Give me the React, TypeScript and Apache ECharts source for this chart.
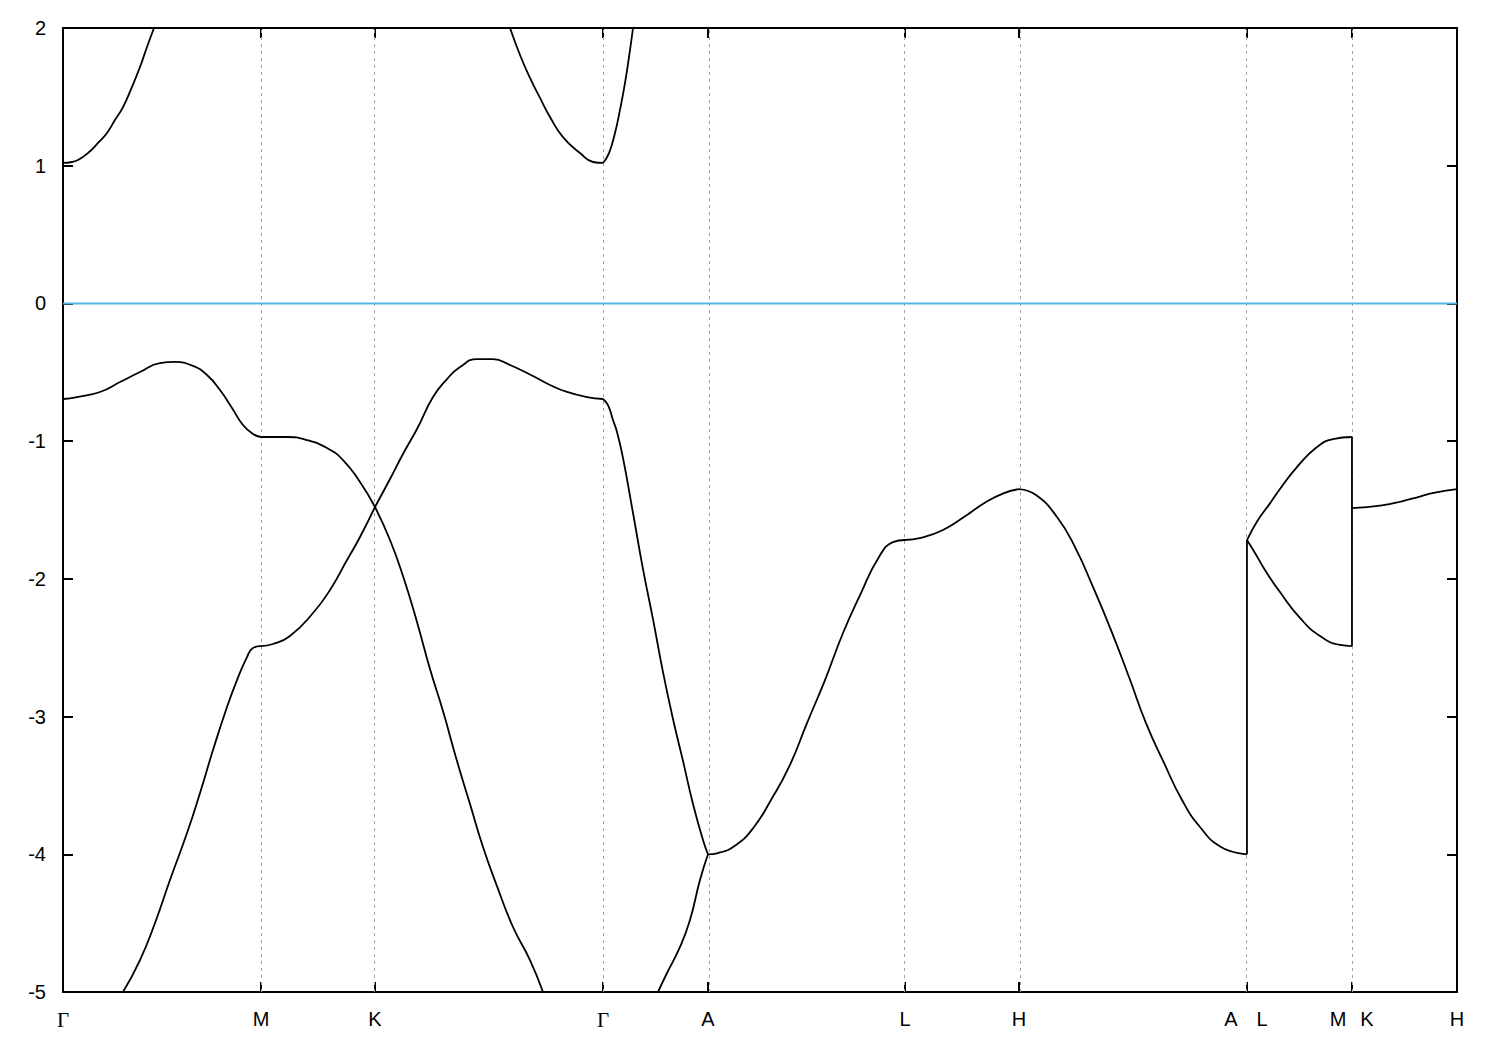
import React, { useEffect, useRef } from 'react';
import * as echarts from 'echarts';

// High-symmetry path positions (k-path distance, units of 2π/a)
const kTicks = [0, 0.5789, 0.9122, 1.5788, 1.8858, 2.4618, 2.7951, 3.4617, 3.7687, 4.0758];
const kLabelNames = ['Γ', 'M', 'K', 'Γ', 'A', 'L', 'H', 'A', 'L', 'M', 'K', 'H'];
const kLabelPos = [0, 0.5789, 0.9122, 1.5788, 1.8858, 2.4618, 2.7951, 3.415, 3.5056, 3.7278, 3.8126, 4.0758];
const yTicks = { min: -5, max: 2, interval: 1 };

// Conduction bands [k, E(eV)]
const cbGM = [[0, 1.02], [0.0263, 1.027], [0.0439, 1.041], [0.0731, 1.092], [0.1023, 1.165], [0.1286, 1.238], [0.152, 1.332], [0.1754, 1.426], [0.2017, 1.572], [0.2251, 1.717], [0.2456, 1.862], [0.2661, 2.0]];
const cbKG = [[1.307, 2.0], [1.3362, 1.804], [1.3654, 1.637], [1.3947, 1.492], [1.4239, 1.354], [1.4619, 1.208], [1.5116, 1.092], [1.5496, 1.027], [1.5788, 1.02]];
const cbGA = [[1.5788, 1.02], [1.5964, 1.092], [1.6139, 1.238], [1.6285, 1.405], [1.6432, 1.601], [1.6578, 1.84], [1.6666, 2.0]];

// Valence bands
const vbAGM = [[0, -0.694], [0.0409, -0.68], [0.1082, -0.643], [0.1667, -0.571], [0.2251, -0.498], [0.2836, -0.433], [0.3275, -0.425], [0.3801, -0.454], [0.421, -0.52], [0.4591, -0.629], [0.4941, -0.759], [0.5263, -0.883], [0.5555, -0.948], [0.5789, -0.97]];
const vbAMK = [[0.5789, -0.97], [0.6549, -0.97], [0.7134, -0.992], [0.7719, -1.05], [0.8187, -1.137], [0.8684, -1.297], [0.9122, -1.478]];
const vbAKG = [[0.9122, -1.478], [0.9561, -1.718], [0.9941, -1.979], [1.035, -2.313], [1.073, -2.655], [1.111, -2.96], [1.152, -3.323], [1.19, -3.635], [1.228, -3.947], [1.2689, -4.231], [1.3157, -4.528], [1.3654, -4.768], [1.4034, -5.0]];

const vbBGM = [[0.1754, -5.0], [0.2251, -4.768], [0.269, -4.499], [0.3128, -4.187], [0.3626, -3.846], [0.4006, -3.555], [0.4386, -3.243], [0.4795, -2.931], [0.5087, -2.735], [0.538, -2.568], [0.5555, -2.502], [0.5789, -2.488]];
const vbBMK = [[0.5789, -2.488], [0.614, -2.473], [0.6637, -2.415], [0.731, -2.248], [0.7807, -2.081], [0.8304, -1.863], [0.8684, -1.696], [0.9122, -1.478]];
const vbBKG = [[0.9122, -1.478], [0.9561, -1.275], [0.9941, -1.093], [1.035, -0.912], [1.0818, -0.68], [1.1227, -0.549], [1.1608, -0.462], [1.2105, -0.404], [1.2572, -0.404], [1.3069, -0.447], [1.3742, -0.527], [1.4239, -0.592], [1.4736, -0.643], [1.5321, -0.68], [1.5788, -0.694]];
const vbBGA = [[1.5788, -0.694], [1.5934, -0.738], [1.6081, -0.847], [1.6198, -0.934], [1.6373, -1.122], [1.6666, -1.522], [1.6958, -1.929], [1.725, -2.292], [1.7543, -2.677], [1.7835, -3.018], [1.8128, -3.323], [1.842, -3.635], [1.8712, -3.896], [1.8858, -4.0]];

const vbCGA = [[1.7396, -5.0], [1.766, -4.862], [1.804, -4.673], [1.8332, -4.477], [1.8624, -4.187], [1.8858, -4.0]];
const vbCAL = [[1.8858, -4.0], [1.915, -3.991], [1.9677, -3.933], [2.0203, -3.802], [2.07, -3.606], [2.1227, -3.366], [2.1753, -3.047], [2.2279, -2.735], [2.2806, -2.393], [2.3332, -2.103], [2.3858, -1.841], [2.4267, -1.733], [2.4618, -1.718]];
const vbCLH = [[2.4618, -1.718], [2.5086, -1.703], [2.5729, -1.645], [2.6343, -1.551], [2.6987, -1.442], [2.7513, -1.377], [2.7951, -1.348]];
const vbCHA = [[2.7951, -1.348], [2.8449, -1.391], [2.9063, -1.551], [2.9589, -1.769], [3.0115, -2.059], [3.0642, -2.372], [3.1168, -2.713], [3.1665, -3.047], [3.2192, -3.337], [3.2718, -3.606], [3.3244, -3.802], [3.3858, -3.947], [3.4617, -4.0]];
const jumpAL = [[3.4617, -4.0], [3.4617, -1.718]];
const vbDLMup = [[3.4617, -1.718], [3.4939, -1.573], [3.529, -1.452], [3.5582, -1.347], [3.6079, -1.188], [3.6664, -1.043], [3.7132, -0.985], [3.7687, -0.97]];
const vbDLMlo = [[3.4617, -1.718], [3.4852, -1.812], [3.5144, -1.936], [3.5582, -2.096], [3.6167, -2.284], [3.6752, -2.415], [3.7337, -2.48], [3.7687, -2.488]];
const jumpMK = [[3.7687, -0.97], [3.7687, -2.488]];
const vbDKH = [[3.7687, -1.486], [3.8564, -1.466], [3.9148, -1.437], [3.9646, -1.404], [4.0114, -1.373], [4.0758, -1.348]];

const fermi = [[0, 0], [4.0758, 0]];

const smoothSegments = [cbGM, cbKG, cbGA, vbAGM, vbAMK, vbAKG, vbBGM, vbBMK, vbBKG, vbBGA, vbCGA, vbCAL, vbCLH, vbCHA, vbDLMup, vbDLMlo, vbDKH];
const straightSegments = [jumpAL, jumpMK];

export default function App() {
  const ref = useRef<HTMLDivElement>(null);
  useEffect(() => {
    const chart = echarts.init(ref.current!, null, { renderer: 'svg' });
    const kMin = kTicks[0];
    const kMax = kTicks[kTicks.length - 1];
    const axisLineStyle = { color: '#000', width: 2 };
    const tickStyle = { color: '#000', width: 2 };
    const bandStyle = { color: '#000', width: 1.8 };

    const series: any[] = [
      {
        type: 'line',
        data: [],
        z: 1,
        silent: true,
        markLine: {
          z: 1,
          silent: true,
          symbol: 'none',
          label: { show: false },
          lineStyle: { color: '#a0a0a0', type: [3, 4], width: 1 },
          data: kTicks.slice(1, -1).map((k) => ({ xAxis: k })),
          animation: false,
        },
      },
      {
        type: 'line',
        data: fermi,
        z: 2,
        symbol: 'none',
        silent: true,
        lineStyle: { color: '#56b4e9', width: 2 },
      },
    ];
    smoothSegments.forEach((seg) => {
      series.push({
        type: 'line',
        data: seg,
        z: 3,
        symbol: 'none',
        smooth: 0.5,
        silent: true,
        lineStyle: bandStyle,
      });
    });
    straightSegments.forEach((seg) => {
      series.push({
        type: 'line',
        data: seg,
        z: 3,
        symbol: 'none',
        silent: true,
        lineStyle: bandStyle,
      });
    });

    chart.setOption({
      animation: false,
      backgroundColor: '#fff',
      grid: {
        left: 63,
        right: 43,
        top: 28,
        bottom: 58,
        containLabel: false,
        outerBoundsMode: 'none',
      },
      xAxis: [
        {
          type: 'value',
          min: kMin,
          max: kMax,
          position: 'bottom',
          axisLine: { show: true, onZero: false, lineStyle: axisLineStyle },
          axisTick: { show: true, inside: true, length: 10, lineStyle: tickStyle, customValues: kTicks },
          splitLine: { show: false },
          axisLabel: {
            show: true,
            customValues: kLabelPos,
            margin: 17,
            showMinLabel: true,
            showMaxLabel: true,
            formatter: (v: number) => {
              const i = kLabelPos.findIndex((p) => Math.abs(p - v) < 1e-6);
              const name = i >= 0 ? kLabelNames[i] : '';
              return name === 'Γ' ? '{g|Γ}' : '{s|' + name + '}';
            },
            rich: {
              g: { fontFamily: 'Liberation Serif', fontSize: 21, color: '#000' },
              s: { fontFamily: 'Liberation Sans', fontSize: 20, color: '#000' },
            },
          },
        },
        {
          type: 'value',
          min: kMin,
          max: kMax,
          position: 'top',
          axisLine: { show: true, onZero: false, lineStyle: axisLineStyle },
          axisTick: { show: true, inside: true, length: 10, lineStyle: tickStyle, customValues: kTicks },
          splitLine: { show: false },
          axisLabel: { show: false },
        },
      ],
      yAxis: [
        {
          type: 'value',
          min: yTicks.min,
          max: yTicks.max,
          interval: yTicks.interval,
          position: 'left',
          axisLine: { show: true, onZero: false, lineStyle: axisLineStyle },
          axisTick: { show: true, inside: true, length: 10, lineStyle: tickStyle },
          splitLine: { show: false },
          axisLabel: {
            show: true,
            margin: 17,
            fontFamily: 'Liberation Sans',
            fontSize: 20,
            color: '#000',
          },
        },
        {
          type: 'value',
          min: yTicks.min,
          max: yTicks.max,
          interval: yTicks.interval,
          position: 'right',
          axisLine: { show: true, onZero: false, lineStyle: axisLineStyle },
          axisTick: { show: true, inside: true, length: 10, lineStyle: tickStyle },
          splitLine: { show: false },
          axisLabel: { show: false },
        },
      ],
      series,
    });
    return () => chart.dispose();
  }, []);
  return (
    <div
      ref={ref}
      style={{ position: 'fixed', left: 0, top: 0, width: 1500, height: 1050, background: '#fff' }}
    />
  );
}
